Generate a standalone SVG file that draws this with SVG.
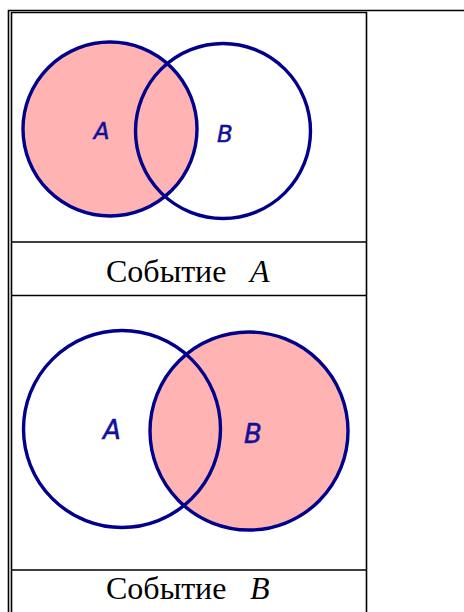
<svg xmlns="http://www.w3.org/2000/svg" width="464" height="612" viewBox="0 0 464 612">
<style>
.ln{stroke:#000;stroke-width:1.6;fill:none}
.c{stroke:#00008c;stroke-width:3.4;}
.lbl{font-family:"DejaVu Sans",Verdana,sans-serif;font-style:oblique;fill:#10109a;text-anchor:middle;stroke:#10109a;stroke-width:0.5}
.cap{font-family:"Liberation Serif","Times New Roman",serif;font-size:32px;fill:#000}
</style>
<rect width="464" height="612" fill="#fff"/>
<g id="table">
<path class="ln" d="M8.5,612 V10.5 H464"/>
<path class="ln" d="M11.5,612 V12.5 H366.5 V612"/>
<path class="ln" d="M11.5,242 H366.5 M11.5,295.5 H366.5 M11.5,570 H366.5"/>
</g>
<g id="venn-a">
<circle cx="110" cy="129" r="87" fill="#ffb3b3"/>
<circle class="c" cx="110" cy="129" r="87" fill="none"/>
<circle class="c" cx="223" cy="131" r="87.5" fill="none"/>
<text class="lbl" x="101.5" y="138.5" font-size="23">A</text>
<text class="lbl" x="225" y="141.5" font-size="23">B</text>
</g>
<g id="caption-a"><text class="cap" x="106" y="282">Событие<tspan font-style="italic" x="250">A</tspan></text></g>
<g id="venn-b">
<circle cx="249" cy="431" r="99" fill="#ffb3b3"/>
<circle class="c" cx="122" cy="429" r="98.5" fill="none"/>
<circle class="c" cx="249" cy="431" r="99" fill="none"/>
<text class="lbl" x="112" y="439" font-size="26">A</text>
<text class="lbl" x="253" y="443" font-size="26">B</text>
</g>
<g id="caption-b"><text class="cap" x="106" y="599">Событие<tspan font-style="italic" x="250">B</tspan></text></g>
</svg>
